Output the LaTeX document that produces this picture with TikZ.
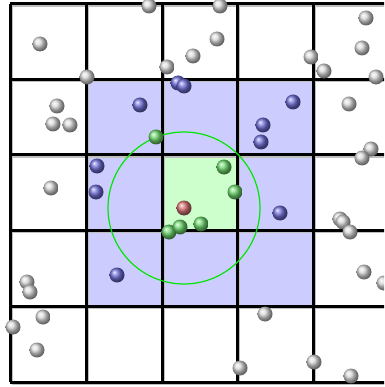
\documentclass[tikz,border=0pt]{standalone}
\usepackage{tikz}

\definecolor{cellblue}{RGB}{204,204,255}
\definecolor{cellgreen}{RGB}{204,255,204}
\definecolor{ringgreen}{RGB}{0,230,0}
\definecolor{blueparticle}{RGB}{110,110,215}
\definecolor{greenparticle}{RGB}{110,215,110}
\definecolor{redparticle}{RGB}{215,115,115}

\begin{document}
\begin{tikzpicture}[
    x=1pt, y=-1pt,
    gridline/.style={line width=3pt},
    gridshadow/.style={line width=1.5pt, draw=black!25},
    ring/.style={draw=ringgreen, line width=1.2pt},
    ball/.style={shading=ball},
    greyball/.style={ball, ball color=black!15},
    blueball/.style={ball, ball color=blueparticle},
    greenball/.style={ball, ball color=greenparticle},
    redball/.style={ball, ball color=redparticle},
]
  \useasboundingbox (0,0) rectangle (384,387);
  \clip (0,0) rectangle (384,387);

  % Neighbour cells and centre cell
  \fill[cellblue] (86,79.5) rectangle (313,306);
  \fill[cellgreen] (162,155) rectangle (237.5,230.5);

  % Grid
  \foreach \gx in {10,86,162,237.5,313,389}
    \draw[gridshadow] (\gx+2,6) -- (\gx+2,384);
  \foreach \gy in {4,79.5,155,230.5,306,382}
    \draw[gridshadow] (12,\gy+2) -- (391,\gy+2);
  \foreach \gx in {10,86,162,237.5,313,389}
    \draw[gridline] (\gx,4) -- (\gx,382);
  \foreach \gy in {4,79.5,155,230.5,306,382}
    \draw[gridline] (10,\gy) -- (389,\gy);

  % Cut-off radius
  \coordinate (probe) at (184,208);
  \draw[ring] (probe) circle[radius=76pt];

  % Particles outside the neighbourhood
  \foreach \px/\py in {40/44, 149/6, 87/77, 167/67, 193/56, 220/6, 217/39,
      311/57, 324/71, 366/18, 362/48, 376/77, 349/104, 371/149, 362/158,
      57/106, 53/124, 70/125, 51/188, 27/282, 30/292, 43/317, 13/327,
      37/350, 340/219, 343/222, 350/232, 364/272, 384/283, 265/314,
      240/368, 314/362, 351/376}
    \shade[greyball] (\px,\py) circle[radius=7.5pt];

  % Particles in neighbour cells
  \foreach \px/\py in {178/83, 184/86, 140/105, 97/166, 96/192,
      293/102, 263/125, 261/142, 280/213, 117/275}
    \shade[blueball] (\px,\py) circle[radius=7.5pt];

  % Particles within the cut-off
  \foreach \px/\py in {156/137, 224/167, 235/192, 201/224, 169/232, 180/227}
    \shade[greenball] (\px,\py) circle[radius=7.5pt];

  % Probe particle
  \shade[redball] (probe) circle[radius=7.5pt];
\end{tikzpicture}
\end{document}
